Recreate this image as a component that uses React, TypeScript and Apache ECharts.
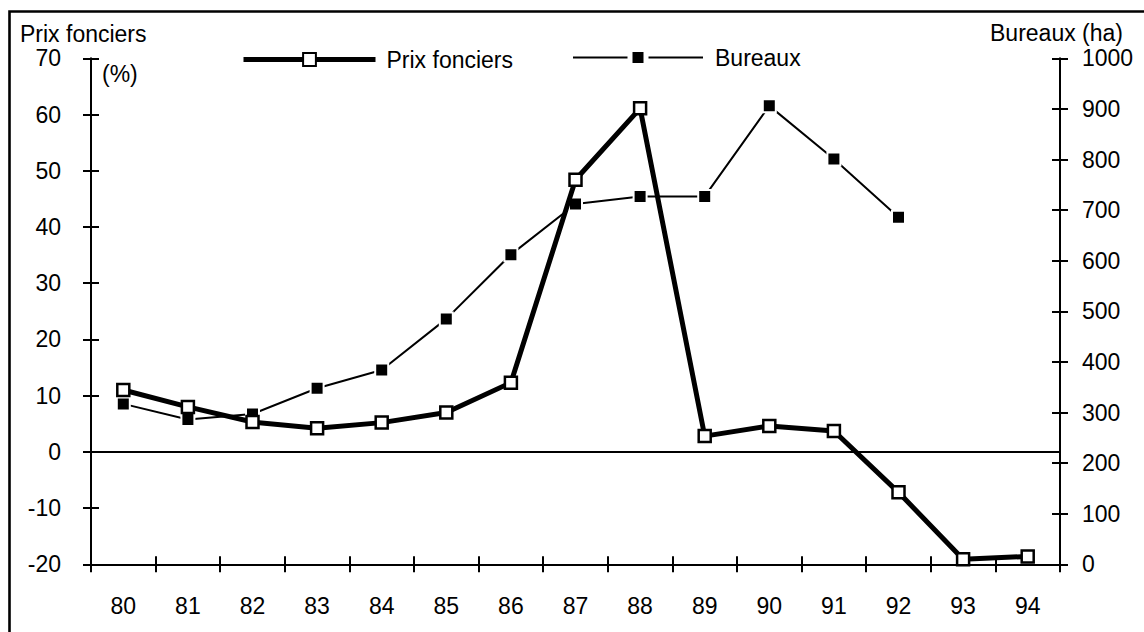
import React, { useEffect, useRef } from "react";
import * as echarts from "echarts";

const years = ["80", "81", "82", "83", "84", "85", "86", "87", "88", "89", "90", "91", "92", "93", "94"];
const prixFonciers = [11.0, 8.0, 5.3, 4.2, 5.2, 7.0, 12.3, 48.4, 61.1, 2.8, 4.6, 3.7, -7.2, -19.1, -18.6];
const bureaux = [317, 286, 297, 348, 384, 485, 612, 712, 727, 727, 906, 801, 686, null, null];
const leftTicks = { min: -20, max: 70, interval: 10 };
const rightTicks = { min: 0, max: 1000, interval: 100 };

const FONT = "'Liberation Sans', Arial, sans-serif";
const FS = 23;

export default function App() {
  const ref = useRef<HTMLDivElement>(null);
  useEffect(() => {
    if (!ref.current) return;
    const chart = echarts.init(ref.current, null, { renderer: "svg" });
    const axisLine = { show: true, onZero: false, lineStyle: { color: "#000", width: 2 } };
    const label = { color: "#000", fontSize: FS, fontFamily: FONT };
    const tickOut = { show: true, inside: false, length: 8, lineStyle: { color: "#000", width: 2 } };
    const tickIn = { show: true, inside: true, length: 8, lineStyle: { color: "#000", width: 2 } };
    chart.setOption({
      animation: false,
      backgroundColor: "#fff",
      textStyle: { fontFamily: FONT, color: "#000" },
      grid: { left: 91, right: 84, top: 58.3, bottom: 67.7, containLabel: false },
      legend: [
        {
          data: ["Prix fonciers"],
          left: 241,
          top: 48,
          padding: 0,
          itemWidth: 132,
          itemHeight: 16,
          lineStyle: { width: 5, color: "#000" },
          itemStyle: { color: "#fff", borderColor: "#000", borderWidth: 2 },
          textStyle: { ...label, padding: [10, 0, 0, 6] },
          selectedMode: false,
        },
        {
          data: ["Bureaux"],
          left: 572,
          top: 46,
          padding: 0,
          itemWidth: 130,
          itemHeight: 20,
          lineStyle: { width: 2, color: "#000" },
          itemStyle: { color: "#000", borderColor: "#fff", borderWidth: 5 },
          textStyle: { ...label, padding: [14, 0, 0, 7] },
          selectedMode: false,
        },
      ],
      xAxis: [
        {
          type: "category",
          data: years,
          position: "bottom",
          boundaryGap: true,
          axisLine,
          axisTick: tickOut,
          axisLabel: { ...label, margin: 30, interval: 0 },
          splitLine: { show: false },
        },
        {
          type: "category",
          data: years,
          position: "bottom",
          boundaryGap: true,
          axisLine: { show: false, onZero: false },
          axisTick: tickIn,
          axisLabel: { show: false },
          splitLine: { show: false },
        },
      ],
      yAxis: [
        {
          type: "value",
          position: "left",
          ...leftTicks,
          axisLine,
          axisTick: tickOut,
          axisLabel: { ...label, margin: 30 },
          splitLine: { show: false },
        },
        {
          type: "value",
          position: "right",
          ...rightTicks,
          axisLine,
          axisTick: tickOut,
          axisLabel: { ...label, margin: 22, formatter: (v: number) => String(v) },
          splitLine: { show: false },
        },
        {
          type: "value",
          position: "left",
          ...leftTicks,
          axisLine: { show: false, onZero: false },
          axisTick: tickIn,
          axisLabel: { show: false },
          splitLine: { show: false },
        },
        {
          type: "value",
          position: "right",
          ...rightTicks,
          axisLine: { show: false, onZero: false },
          axisTick: tickIn,
          axisLabel: { show: false },
          splitLine: { show: false },
        },
      ],
      series: [
        {
          name: "Bureaux",
          type: "line",
          yAxisIndex: 1,
          data: bureaux,
          symbol: "rect",
          symbolSize: 13,
          showSymbol: true,
          connectNulls: false,
          lineStyle: { color: "#000", width: 2 },
          itemStyle: { color: "#000", borderColor: "#fff", borderWidth: 2 },
          z: 2,
        },
        {
          name: "Prix fonciers",
          type: "line",
          yAxisIndex: 0,
          data: prixFonciers,
          symbol: "rect",
          symbolSize: 12,
          lineStyle: { color: "#000", width: 5 },
          itemStyle: { color: "#fff", borderColor: "#000", borderWidth: 2.5 },
          z: 3,
          markLine: {
            silent: true,
            symbol: "none",
            label: { show: false },
            lineStyle: { color: "#000", width: 2, type: "solid" },
            data: [{ yAxis: 0 }],
          },
        },
      ],
      graphic: [
        {
          type: "rect",
          shape: { x: 9.5, y: 11.5, width: 1400, height: 900 },
          style: { fill: "none", stroke: "#000", lineWidth: 2.6 },
          silent: true,
        },
        {
          type: "text",
          x: 20,
          y: 34,
          style: { text: "Prix fonciers", fontSize: FS, fontFamily: FONT, fill: "#000", verticalAlign: "middle" },
        },
        {
          type: "text",
          x: 102,
          y: 74,
          style: { text: "(%)", fontSize: FS, fontFamily: FONT, fill: "#000", verticalAlign: "middle" },
        },
        {
          type: "text",
          x: 1123,
          y: 33,
          style: { text: "Bureaux (ha)", fontSize: FS, fontFamily: FONT, fill: "#000", align: "right", verticalAlign: "middle" },
        },
      ],
    });
    return () => chart.dispose();
  }, []);
  return (
    <div
      ref={ref}
      style={{ position: "fixed", left: 0, top: 0, width: 1144, height: 632, background: "#fff" }}
    />
  );
}
